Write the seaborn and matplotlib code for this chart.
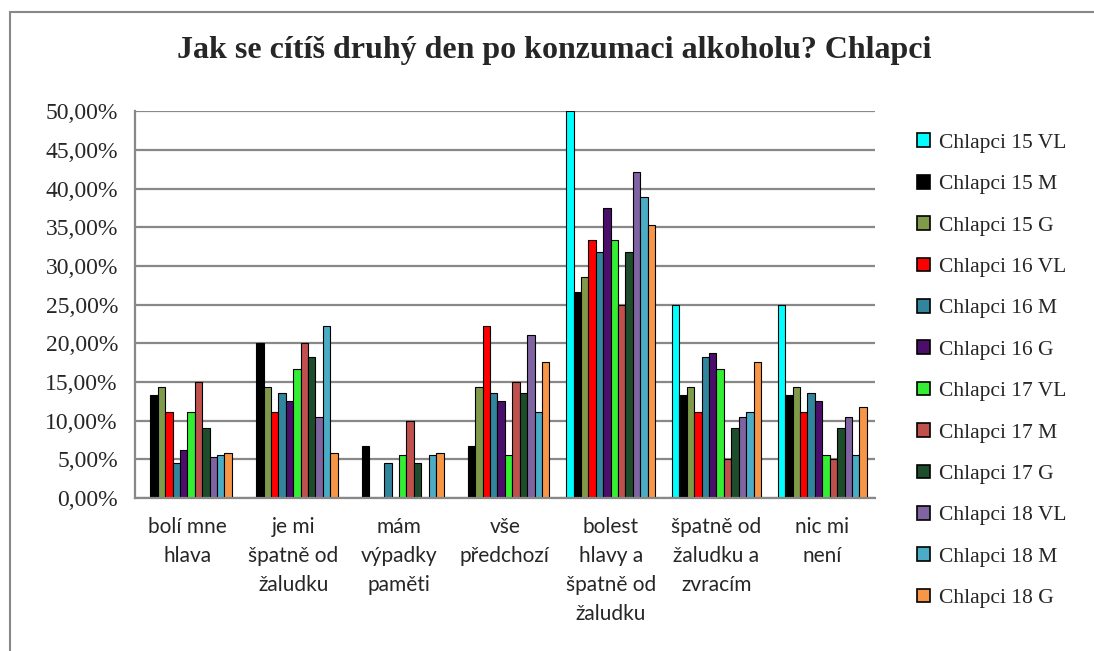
import matplotlib
matplotlib.use("Agg")
import matplotlib.pyplot as plt
import seaborn as sns
import pandas as pd
from matplotlib.ticker import FuncFormatter
from matplotlib.lines import Line2D

categories = ["bolí mne\nhlava", "je mi\nšpatně od\nžaludku", "mám\nvýpadky\npaměti",
              "vše\npředchozí", "bolest\nhlavy a\nšpatně od\nžaludku",
              "špatně od\nžaludku a\nzvracím", "nic mi\nnení"]

series = ["Chlapci 15 VL", "Chlapci 15 M", "Chlapci 15 G", "Chlapci 16 VL",
          "Chlapci 16 M", "Chlapci 16 G", "Chlapci 17 VL", "Chlapci 17 M",
          "Chlapci 17 G", "Chlapci 18 VL", "Chlapci 18 M", "Chlapci 18 G"]

ch15_vl = [0.0, 0.0, 0.0, 0.0, 50.0, 25.0, 25.0]
ch15_m = [13.33, 20.0, 6.67, 6.67, 26.67, 13.33, 13.33]
ch15_g = [14.29, 14.29, 0.0, 14.29, 28.57, 14.29, 14.29]
ch16_vl = [11.11, 11.11, 0.0, 22.22, 33.33, 11.11, 11.11]
ch16_m = [4.55, 13.64, 4.55, 13.64, 31.82, 18.18, 13.64]
ch16_g = [6.25, 12.5, 0.0, 12.5, 37.5, 18.75, 12.5]
ch17_vl = [11.11, 16.67, 5.56, 5.56, 33.33, 16.67, 5.56]
ch17_m = [15.0, 20.0, 10.0, 15.0, 25.0, 5.0, 5.0]
ch17_g = [9.09, 18.18, 4.55, 13.64, 31.82, 9.09, 9.09]
ch18_vl = [5.26, 10.53, 0.0, 21.05, 42.11, 10.53, 10.53]
ch18_m = [5.56, 22.22, 5.56, 11.11, 38.89, 11.11, 5.56]
ch18_g = [5.88, 5.88, 5.88, 17.65, 35.29, 17.65, 11.76]

values = [ch15_vl, ch15_m, ch15_g, ch16_vl, ch16_m, ch16_g,
          ch17_vl, ch17_m, ch17_g, ch18_vl, ch18_m, ch18_g]

colors = ["#00FFFF", "#000000", "#7F9A48", "#FF0000", "#31859C", "#4B0F6B",
          "#33EE33", "#C0504D", "#1E4D2B", "#8064A2", "#4BACC6", "#F79646"]

rows = []
for s, vals in zip(series, values):
    for c, v in zip(categories, vals):
        rows.append({"cat": c, "series": s, "val": v})
df = pd.DataFrame(rows)

sns.set_style("white")
plt.rcParams["font.family"] = ["Liberation Serif", "DejaVu Serif"]

fig = plt.figure(figsize=(10.94, 6.51), dpi=100)
ax = fig.add_axes([0.123, 0.235, 0.677, 0.594])

sns.barplot(data=df, x="cat", y="val", hue="series", order=categories,
            hue_order=series, palette=colors, width=0.84, ax=ax,
            edgecolor="black", linewidth=0.8, saturation=1, errorbar=None,
            legend=True)

ax.set_ylim(0, 50)
ax.set_yticks(range(0, 51, 5))
ax.yaxis.set_major_formatter(FuncFormatter(lambda v, p: f"{v:.2f}".replace(".", ",") + "%"))
ax.yaxis.grid(True, color="#888888", linewidth=1.6)
ax.set_axisbelow(True)
ax.set_xlabel("")
ax.set_ylabel("")
for side in ["top", "right"]:
    ax.spines[side].set_visible(False)
ax.spines["left"].set_color("#888888")
ax.spines["bottom"].set_color("#888888")
ax.spines["left"].set_linewidth(1.6)
ax.spines["bottom"].set_linewidth(1.6)
ax.tick_params(axis="y", labelsize=17, length=0, pad=12)
ax.tick_params(axis="x", length=0, pad=14)
for lbl in ax.get_xticklabels():
    lbl.set_fontfamily(["Lato", "DejaVu Sans"])
    lbl.set_fontsize(15)
    lbl.set_linespacing(1.55)
    lbl.set_verticalalignment("top")

fig.text(0.507, 0.923, "Jak se cítíš druhý den po konzumaci alkoholu? Chlapci",
         ha="center", va="center", fontsize=23, fontweight="bold")

leg = ax.legend(loc="upper left", bbox_to_anchor=(1.045, 0.965), frameon=False,
                fontsize=15.5, handlelength=0.6, handleheight=0.6,
                handletextpad=0.4, labelspacing=1.02, borderaxespad=0)
for h in leg.legend_handles:
    h.set_edgecolor("black")
    h.set_linewidth(1.2)

# outer chart frame (top and left edges visible in reference)
fig.add_artist(Line2D([0.009, 1.0], [0.981, 0.981], transform=fig.transFigure,
                      color="#888888", linewidth=1.5))
fig.add_artist(Line2D([0.009, 0.009], [0.0, 0.981], transform=fig.transFigure,
                      color="#888888", linewidth=1.5))

fig.savefig("out.png", dpi=100)
